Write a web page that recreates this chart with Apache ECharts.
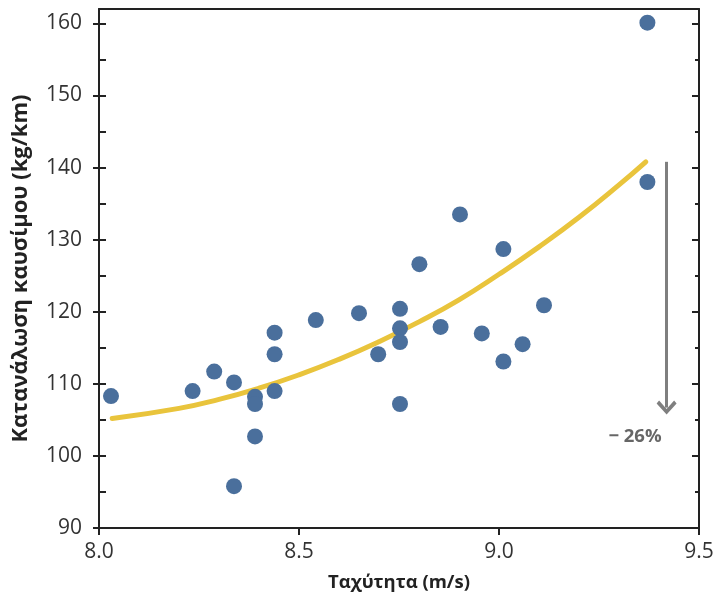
<!DOCTYPE html>
<html>
<head>
<meta charset="utf-8">
<script src="https://cdn.jsdelivr.net/npm/echarts@6/dist/echarts.min.js"></script>
<style>
  html, body { margin: 0; padding: 0; background: #fff; }
  #chart { width: 720px; height: 594px; }
</style>
</head>
<body>
<div id="chart"></div>
<script>
// ---- data ----
const speed = [8.03, 8.234, 8.288, 8.3375, 8.3375, 8.39, 8.39, 8.39, 8.439, 8.439, 8.439,
  8.542, 8.65, 8.698, 8.7525, 8.7525, 8.7525, 8.7525, 8.801, 8.854, 8.9025, 8.957,
  9.011, 9.011, 9.059, 9.1125, 9.371, 9.371];
const fuel = [108.3, 109.0, 111.7, 110.2, 95.8, 108.2, 107.2, 102.7, 117.1, 114.1, 109.0,
  118.85, 119.8, 114.1, 120.4, 117.7, 115.8, 107.2, 126.6, 117.9, 133.5, 117.0,
  128.7, 113.1, 115.5, 120.9, 160.1, 138.0];
const fitSpeed = [8.033, 8.2, 8.3, 8.4, 8.5, 8.6, 8.7, 8.8, 8.9, 9.0, 9.1, 9.2, 9.3, 9.367];
const fitFuel = [105.2, 106.6, 107.85, 109.4, 111.25, 113.4, 115.85, 118.6, 121.65, 125.2, 129.0, 133.1, 137.6, 140.8];
const xTicks = [8.0, 8.5, 9.0, 9.5];
const xTickLabels = ['8.0', '8.5', '9.0', '9.5'];
const yTicks = [90, 100, 110, 120, 130, 140, 150, 160];
const yMinorTicks = [95, 105, 115, 125, 135, 145, 155];
const arrowSpeed = 9.419;
const arrowFrom = 140.8;
const arrowTo = 106.7;
const changeLabel = '\u2212 26%';
const changePos = [9.34, 102.7];
const xTitle = 'Ταχύτητα (m/s)';
const yTitle = 'Κατανάλωση καυσίμου (kg/km)';

const FONT = '"Open Sans", "Noto Sans", sans-serif';
const AXIS_COLOR = '#222';
const yAll = yTicks.concat(yMinorTicks).sort((a, b) => a - b);

const chart = echarts.init(document.getElementById('chart'), null, { renderer: 'canvas' });

const yBase = { type: 'value', min: 90, max: 162, interval: 10, splitLine: { show: false } };

chart.setOption({
  animation: false,
  backgroundColor: '#fff',
  grid: { left: 99, right: 21, top: 9, bottom: 66, containLabel: false, outerBoundsMode: 'none' },
  xAxis: [
    {
      type: 'value', min: 8, max: 9.5, interval: 0.5, position: 'bottom',
      splitLine: { show: false },
      axisLine: { show: true, lineStyle: { color: AXIS_COLOR, width: 2 } },
      axisTick: { show: true, inside: false, length: 7, customValues: xTicks, lineStyle: { color: AXIS_COLOR, width: 2 } },
      axisLabel: {
        customValues: xTicks, margin: 14,
        formatter: v => xTickLabels[xTicks.indexOf(v)] ?? v.toFixed(1),
        fontFamily: FONT, fontSize: 21, color: '#333'
      },
      name: xTitle, nameLocation: 'middle', nameGap: 45,
      nameTextStyle: { fontFamily: FONT, fontSize: 18.5, fontWeight: 'bold', color: '#222' }
    },
    {
      type: 'value', min: 8, max: 9.5, interval: 0.5, position: 'top',
      splitLine: { show: false },
      axisLine: { show: true, lineStyle: { color: AXIS_COLOR, width: 2 } },
      axisTick: { show: false }, axisLabel: { show: false }
    }
  ],
  yAxis: [
    Object.assign({}, yBase, {
      position: 'left',
      axisLine: { show: true, lineStyle: { color: AXIS_COLOR, width: 2 } },
      axisTick: { show: true, inside: false, length: 6, customValues: yTicks, lineStyle: { color: AXIS_COLOR, width: 2 } },
      axisLabel: { customValues: yTicks, margin: 17, fontFamily: FONT, fontSize: 21, color: '#333' },
      name: yTitle, nameLocation: 'middle', nameGap: 67, nameRotate: 90,
      nameTextStyle: { fontFamily: FONT, fontSize: 22, fontWeight: 'bold', color: '#222' }
    }),
    Object.assign({}, yBase, {
      position: 'left',
      axisLine: { show: false },
      axisTick: { show: true, inside: true, length: 7, customValues: yAll, lineStyle: { color: AXIS_COLOR, width: 2 } },
      axisLabel: { show: false }
    }),
    Object.assign({}, yBase, {
      position: 'right',
      axisLine: { show: true, lineStyle: { color: AXIS_COLOR, width: 2 } },
      axisTick: { show: true, inside: true, length: 7, customValues: yTicks, lineStyle: { color: AXIS_COLOR, width: 2 } },
      axisLabel: { show: false }
    }),
    Object.assign({}, yBase, {
      position: 'right', offset: 0,
      axisLine: { show: false },
      axisTick: { show: true, inside: true, length: 4, customValues: yMinorTicks, lineStyle: { color: AXIS_COLOR, width: 2 } },
      axisLabel: { show: false }
    })
  ],
  series: [
    {
      type: 'line', xAxisIndex: 0, yAxisIndex: 0, smooth: true, showSymbol: false, z: 2,
      data: fitSpeed.map((x, i) => [x, fitFuel[i]]),
      lineStyle: { color: '#E9C43C', width: 5, cap: 'round' },
      markLine: {
        silent: true, symbol: ['none', 'path://M0,10 L10,0 L20,10 L17.5,12.5 L10,5 L2.5,12.5 Z'],
        symbolSize: [20, 14],
        lineStyle: { color: '#7f7f7f', width: 3, type: 'solid' },
        itemStyle: { color: '#7f7f7f' },
        label: { show: false },
        data: [[{ coord: [arrowSpeed, arrowFrom] }, { coord: [arrowSpeed, arrowTo] }]]
      },
      markPoint: {
        silent: true, symbol: 'circle', symbolSize: 0,
        label: {
          show: true, position: 'inside', formatter: changeLabel,
          fontFamily: FONT, fontSize: 18.5, fontWeight: 'bold', color: '#666'
        },
        itemStyle: { color: 'rgba(0,0,0,0)' },
        data: [{ coord: changePos }]
      }
    },
    {
      type: 'scatter', xAxisIndex: 0, yAxisIndex: 0, z: 3,
      symbolSize: 16,
      itemStyle: { color: '#4A6F9C', opacity: 1 },
      data: speed.map((x, i) => [x, fuel[i]])
    }
  ]
});
</script>
</body>
</html>
